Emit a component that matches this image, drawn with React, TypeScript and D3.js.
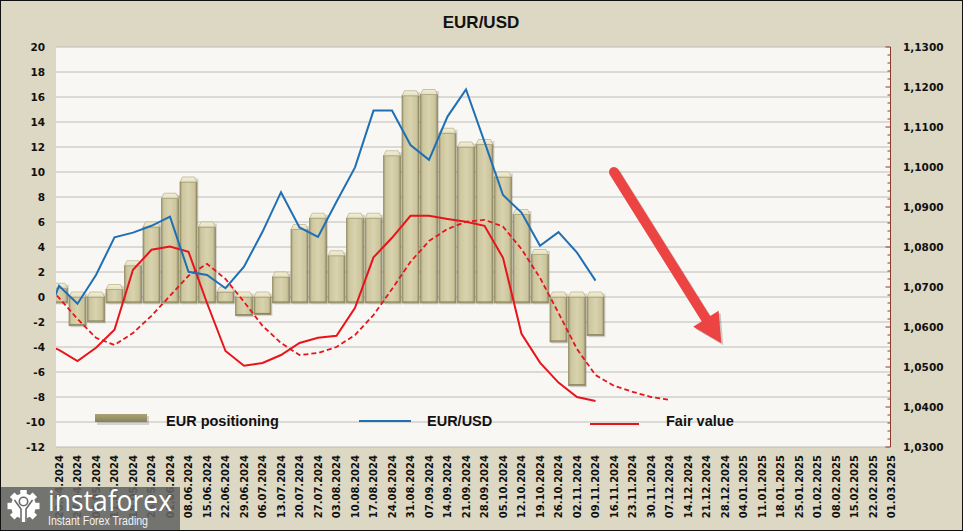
import React from 'react';
import * as d3 from 'd3';

// ---- data ----
const weekLabels = [
  '20.04.2024','27.04.2024','04.05.2024','11.05.2024','18.05.2024','25.05.2024','01.06.2024','08.06.2024',
  '15.06.2024','22.06.2024','29.06.2024','06.07.2024','13.07.2024','20.07.2024','27.07.2024','03.08.2024',
  '10.08.2024','17.08.2024','24.08.2024','31.08.2024','07.09.2024','14.09.2024','21.09.2024','28.09.2024',
  '05.10.2024','12.10.2024','19.10.2024','26.10.2024','02.11.2024','09.11.2024','16.11.2024','23.11.2024',
  '30.11.2024','07.12.2024','14.12.2024','21.12.2024','28.12.2024','04.01.2025','11.01.2025','18.01.2025',
  '25.01.2025','01.02.2025','08.02.2025','15.02.2025','22.02.2025','01.03.2025'
];

// EUR positioning (left axis, bars)
const positioning = [
  0.7, -2.3, -2.0, 0.6, 2.5, 5.6, 7.9, 9.2, 5.6, 0.4, -1.5, -1.4, 1.6, 5.4, 6.3,
  3.3, 6.3, 6.3, 11.3, 16.1, 16.2, 13.1, 12.0, 12.2, 9.6, 6.6, 3.4, -3.6, -7.1, -3.1
];

// EUR/USD (right axis)
const eurusdLeadIn = 1.058; // week before the first label (clipped)
const eurusd = [
  1.0703, 1.0658, 1.0730, 1.0824, 1.0836, 1.0853, 1.0876, 1.0738, 1.0730, 1.0697,
  1.0751, 1.0838, 1.0937, 1.0849, 1.0825, 1.0913, 1.0999, 1.1141, 1.1141, 1.1055,
  1.1018, 1.1126, 1.1194, 1.1063, 1.0930, 1.0886, 1.0803, 1.0837, 1.0786, 1.0716
];

// Fair value (right axis)
const fairLeadIn = 1.056;
const fairValue = [
  1.0543, 1.0515, 1.0548, 1.0593, 1.0743, 1.0793, 1.0801, 1.0788, 1.0660, 1.0540,
  1.0503, 1.0510, 1.0530, 1.0560, 1.0573, 1.0578, 1.0648, 1.0774, 1.0823, 1.0878,
  1.0878, 1.0870, 1.0863, 1.0853, 1.0773, 1.0583, 1.0511, 1.0461, 1.0425, 1.0415
];

// Fair value trend (dashed, right axis)
const fairAvgLeadIn = 1.0722;
const fairValueAvg = [
  1.0673, 1.0620, 1.0573, 1.0555, 1.0585, 1.0628, 1.0678, 1.0728, 1.0758, 1.0720,
  1.0663, 1.0603, 1.0560, 1.0530, 1.0535, 1.0550, 1.0580, 1.0630, 1.0695, 1.0763,
  1.0815, 1.0845, 1.0863, 1.0868, 1.0851, 1.0795, 1.0723, 1.0635, 1.0545, 1.0480,
  1.0453, 1.0438, 1.0425, 1.0418
];

const leftTicks = d3.range(-12, 21, 2);
const rightTicks = d3.range(0, 11).map((k) => 1.03 + k * 0.01);
const rightMinor = d3.range(0, 51).map((k) => 1.03 + k * 0.002);

// arrow annotation (category index, left-axis value)
const arrowFrom = [30.0, 10.0];
const arrowTo = [35.8, -3.7];

export default function App() {
  React.useEffect(() => {
    document.body.style.margin = '0';
  }, []);

  const W = 963, H = 531;
  const P = { l: 56, r: 890, t: 47, b: 447 };

  const x = d3.scaleLinear().domain([0, 45]).range([59, 891.5]);
  const yL = d3.scaleLinear().domain([-12, 20]).range([P.b, P.t]);
  const yR = d3.scaleLinear().domain([1.03, 1.13]).range([P.b, P.t]);
  const fmtR = (v: number) => d3.format('.4f')(v).replace('.', ',');

  const lineR = d3.line<[number, number]>().x((d) => x(d[0])).y((d) => yR(d[1]));
  const blue = lineR([[-1, eurusdLeadIn] as [number, number], ...eurusd.map((v, i) => [i, v] as [number, number])]) || '';
  const red = lineR([[-1, fairLeadIn] as [number, number], ...fairValue.map((v, i) => [i, v] as [number, number])]) || '';
  const redDash = lineR([[-1, fairAvgLeadIn] as [number, number], ...fairValueAvg.map((v, i) => [i, v] as [number, number])]) || '';

  const bw = 17;
  const cap = 5;

  // arrow geometry
  const S = [x(arrowFrom[0]), yL(arrowFrom[1])];
  const T = [x(arrowTo[0]), yL(arrowTo[1])];
  const dx = T[0] - S[0], dy = T[1] - S[1];
  const len = Math.hypot(dx, dy);
  const ux = dx / len, uy = dy / len;
  const px = -uy, py = ux;
  const headLen = 29, headHalf = 15;
  const B = [T[0] - ux * headLen, T[1] - uy * headLen];
  const headPts = `${T[0]},${T[1]} ${B[0] + px * headHalf},${B[1] + py * headHalf} ${B[0] - px * headHalf},${B[1] - py * headHalf}`;
  const shaftEnd = [B[0] + ux * 4, B[1] + uy * 4];

  const tickFont = "'DejaVu Sans', Verdana, sans-serif";
  const legendFont = "'Liberation Sans', Arial, sans-serif";

  // gear teeth
  const gc = [23.5, 506];
  const teeth = d3.range(8).map((k) => k * 45);

  return (
    <svg width={W} height={H} style={{ position: 'absolute', left: 0, top: 0, display: 'block' }}>
      <defs>
        <clipPath id="plotClip">
          <rect x={P.l} y={P.t - 1} width={P.r - P.l} height={P.b - P.t + 2} />
        </clipPath>
        <linearGradient id="barFace" x1="0" x2="1" y1="0" y2="0">
          <stop offset="0" stopColor="#9d9670" />
          <stop offset="0.14" stopColor="#cdc69f" />
          <stop offset="0.5" stopColor="#d8d2ae" />
          <stop offset="0.86" stopColor="#cbc49c" />
          <stop offset="1" stopColor="#8f8862" />
        </linearGradient>
        <linearGradient id="barCap" x1="0" x2="0" y1="0" y2="1">
          <stop offset="0" stopColor="#f4f0d8" />
          <stop offset="1" stopColor="#e4dfbe" />
        </linearGradient>
        <linearGradient id="legSwatch" x1="0" x2="0" y1="0" y2="1">
          <stop offset="0" stopColor="#a9a37a" />
          <stop offset="0.5" stopColor="#9a9468" />
          <stop offset="1" stopColor="#858057" />
        </linearGradient>
      </defs>

      {/* backgrounds */}
      <rect x={0} y={0} width={W} height={H} fill="#dcd8c3" />
      <rect x={P.l} y={P.t} width={P.r - P.l} height={P.b - P.t} fill="#f8f7f3" />

      {/* title */}
      <text x={481} y={22} textAnchor="middle" dominantBaseline="central" fontFamily={legendFont} fontWeight="bold" fontSize={17} fill="#111">EUR/USD</text>

      {/* gridlines */}
      {leftTicks.map((t) => (
        <line key={'g' + t} x1={P.l} x2={P.r} y1={yL(t)} y2={yL(t)} stroke="#bdbcb8" strokeWidth={1} />
      ))}

      {/* left tick labels */}
      {leftTicks.map((t) => (
        <text key={'lt' + t} x={45} y={yL(t)} textAnchor="end" dominantBaseline="central" fontFamily={tickFont} fontWeight="bold" fontSize={10.5} fill="#111">{t}</text>
      ))}

      {/* right axis */}
      <line x1={P.r + 0.5} x2={P.r + 0.5} y1={P.t} y2={P.b} stroke="#8a3b2e" strokeWidth={1} />
      {rightMinor.map((t, k) => (
        <line key={'rm' + k} x1={P.r + 0.5 - (k % 5 === 0 ? 5 : 3)} x2={P.r + 0.5} y1={yR(t)} y2={yR(t)} stroke="#8a3b2e" strokeWidth={1} />
      ))}
      {rightTicks.map((t) => (
        <text key={'rt' + t} x={903} y={yR(t)} textAnchor="start" dominantBaseline="central" fontFamily={tickFont} fontWeight="bold" fontSize={10.5} fill="#111">{fmtR(t)}</text>
      ))}

      {/* x labels */}
      {weekLabels.map((lab, i) => (
        <text key={'xl' + i} transform={`translate(${x(i)},455) rotate(-90)`} textAnchor="end" dy="0.36em" fontFamily={tickFont} fontWeight="bold" fontSize={10} fill="#111">{lab}</text>
      ))}

      <g clipPath="url(#plotClip)">
        {/* bars */}
        {positioning.map((v, i) => {
          const cx = x(i);
          const x0 = cx - bw / 2;
          const y0 = yL(0);
          const yv = yL(v);
          const faceTop = Math.min(y0, yv);
          const faceBot = v >= 0 ? y0 + 6 : yv;
          return (
            <g key={'b' + i}>
              <rect x={x0 + 1.5} y={faceTop - cap + 1.5} width={bw} height={faceBot - faceTop + cap} fill="rgba(0,0,0,0.13)" />
              <rect x={x0} y={faceTop} width={bw} height={faceBot - faceTop} fill="url(#barFace)" stroke="#8c865f" strokeWidth={0.7} />
              <polygon points={`${x0},${faceTop} ${x0 + 2.5},${faceTop - cap} ${x0 + bw - 2.5},${faceTop - cap} ${x0 + bw},${faceTop}`} fill="url(#barCap)" stroke="#a9a27b" strokeWidth={0.6} />
              <line x1={x0 + 0.5} x2={x0 + bw - 0.5} y1={faceBot - 1} y2={faceBot - 1} stroke="#8a845c" strokeWidth={1.2} />
            </g>
          );
        })}

        {/* lines */}
        <path d={redDash} fill="none" stroke="#e8141b" strokeWidth={1.8} strokeDasharray="5,3" />
        <path d={red} fill="none" stroke="#e8141b" strokeWidth={2} />
        <path d={blue} fill="none" stroke="#1f6fb4" strokeWidth={2} />
      </g>

      {/* legend */}
      <rect x={97} y={416} width={52} height={9} fill="rgba(0,0,0,0.15)" />
      <rect x={95} y={414} width={52} height={8} fill="url(#legSwatch)" />
      <text x={166} y={421} dominantBaseline="central" fontFamily={legendFont} fontWeight="bold" fontSize={14.5} fill="#111">EUR positioning</text>
      <line x1={359} x2={411} y1={421} y2={421} stroke="#1f6fb4" strokeWidth={2} />
      <text x={427} y={421} dominantBaseline="central" fontFamily={legendFont} fontWeight="bold" fontSize={14.5} fill="#111">EUR/USD</text>
      <line x1={590} x2={639} y1={424} y2={424} stroke="#e8141b" strokeWidth={2} />
      <text x={666} y={421} dominantBaseline="central" fontFamily={legendFont} fontWeight="bold" fontSize={14.5} fill="#111">Fair value</text>

      {/* arrow annotation */}
      <g transform="translate(2,2)" opacity={0.18}>
        <line x1={S[0]} y1={S[1]} x2={shaftEnd[0]} y2={shaftEnd[1]} stroke="#000" strokeWidth={10} strokeLinecap="round" />
        <polygon points={headPts} fill="#000" />
      </g>
      <line x1={S[0]} y1={S[1]} x2={shaftEnd[0]} y2={shaftEnd[1]} stroke="#ec4343" strokeWidth={10} strokeLinecap="round" />
      <polygon points={headPts} fill="#ec4343" />

      {/* watermark */}
      <rect x={0} y={487} width={180} height={44} fill="rgba(100,100,100,0.88)" />
      <g>
        {teeth.map((a) => (
          <rect key={'t' + a} x={gc[0] - 3.2} y={gc[1] - 16} width={6.4} height={8} fill="#fff" transform={`rotate(${a},${gc[0]},${gc[1]})`} />
        ))}
        <circle cx={gc[0]} cy={gc[1]} r={12.5} fill="#fff" />
        <circle cx={gc[0]} cy={gc[1] - 4.5} r={4.2} fill="none" stroke="#6a6a6a" strokeWidth={1.6} />
        <path d={`M ${gc[0] - 9} ${gc[1] - 6} L ${gc[0] - 2.5} ${gc[1] + 3} L ${gc[0] - 2.5} ${gc[1] + 16} M ${gc[0] + 9} ${gc[1] - 6} L ${gc[0] + 2.5} ${gc[1] + 3} L ${gc[0] + 2.5} ${gc[1] + 16}`} fill="none" stroke="#6a6a6a" strokeWidth={1.6} />
      </g>
      <text x={48} y={511} fontFamily="'Open Sans', 'Liberation Sans', sans-serif" fontSize={29} fill="#fff" textLength={124} lengthAdjust="spacingAndGlyphs">instaforex</text>
      <text x={48} y={525} fontFamily="'Liberation Sans', Arial, sans-serif" fontSize={12} fill="#f2f2f2" textLength={100} lengthAdjust="spacingAndGlyphs">Instant Forex Trading</text>

      {/* outer border */}
      <rect x={0.5} y={0.5} width={W - 1} height={H - 1} fill="none" stroke="#111" strokeWidth={1} />
    </svg>
  );
}
